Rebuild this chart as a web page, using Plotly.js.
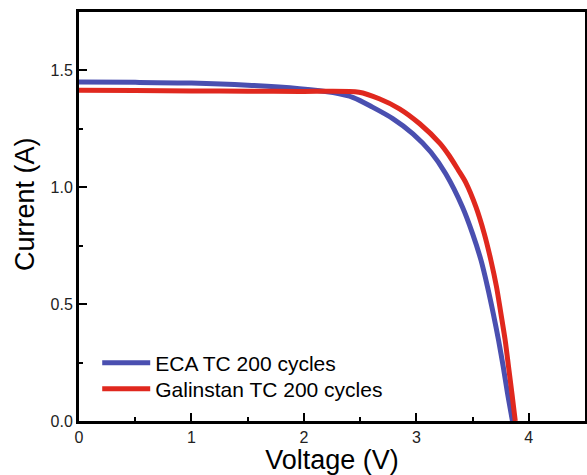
<!DOCTYPE html>
<html>
<head>
<meta charset="utf-8">
<script src="https://cdn.plot.ly/plotly-3.0.1.min.js"></script>
<style>html,body{margin:0;padding:0;background:#fff;}#chart{width:587px;height:475px;}</style>
</head>
<body>
<div id="chart"></div>
<script>
var ecaV = [0, 0.5, 1.0, 1.5, 1.96, 2.26, 2.44, 2.61, 2.79, 2.97, 3.13, 3.26, 3.41, 3.50, 3.575, 3.633, 3.684, 3.731, 3.773, 3.811, 3.855];
var ecaI = [1.450, 1.449, 1.446, 1.437, 1.422, 1.405, 1.384, 1.343, 1.294, 1.229, 1.150, 1.059, 0.916, 0.802, 0.688, 0.574, 0.460, 0.346, 0.232, 0.118, 0.0];
var galV = [0, 0.5, 1.0, 1.5, 1.96, 2.49, 2.67, 2.85, 3.03, 3.21, 3.29, 3.37, 3.44, 3.53, 3.604, 3.663, 3.713, 3.752, 3.790, 3.820, 3.850, 3.880];
var galI = [1.415, 1.414, 1.412, 1.411, 1.410, 1.407, 1.379, 1.336, 1.272, 1.188, 1.137, 1.076, 1.020, 0.916, 0.802, 0.688, 0.574, 0.460, 0.346, 0.232, 0.118, 0.0];
var seriesNames = ["ECA TC 200 cycles", "Galinstan TC 200 cycles"];
var xTitle = "Voltage (V)";
var yTitle = "Current (A)";

var traces = [
  {x: ecaV, y: ecaI, name: seriesNames[0], legend: "legend", mode: "lines", line: {color: "#4a4fb0", width: 5, shape: "spline", smoothing: 0.8}},
  {x: galV, y: galI, name: seriesNames[1], legend: "legend2", mode: "lines", line: {color: "#e0281e", width: 5, shape: "spline", smoothing: 0.8}}
];

var fontFam = "Liberation Sans, Arial, sans-serif";
var legendBase = {xanchor: "left", yanchor: "top", bgcolor: "rgba(0,0,0,0)",
  font: {size: 21, family: fontFam, color: "#000"}, itemwidth: 48};
var layout = {
  width: 587, height: 475,
  margin: {l: 79, r: 2, t: 12, b: 54},
  paper_bgcolor: "#fff", plot_bgcolor: "#fff",
  font: {family: fontFam, color: "#111", size: 16},
  showlegend: true,
  legend: Object.assign({}, legendBase, {x: 0.036, y: 0.1914}),
  legend2: Object.assign({}, legendBase, {x: 0.036, y: 0.1279}),
  xaxis: {
    range: [0, 4.5], dtick: 1, tick0: 0,
    ticks: "inside", ticklen: 8, tickwidth: 2, tickcolor: "#000",
    minor: {dtick: 0.5, ticks: "inside", ticklen: 4, tickwidth: 2, tickcolor: "#000"},
    showline: true, linewidth: 3, linecolor: "#000", mirror: true,
    showgrid: false, zeroline: false,
    tickfont: {size: 16, color: "#222"},
    title: {text: xTitle, font: {size: 27, color: "#000"}, standoff: 2}
  },
  yaxis: {
    range: [0, 1.75], dtick: 0.5, tick0: 0, tickformat: ".1f",
    ticks: "inside", ticklen: 8, tickwidth: 2, tickcolor: "#000",
    minor: {dtick: 0.25, ticks: "inside", ticklen: 4, tickwidth: 2, tickcolor: "#000"},
    showline: true, linewidth: 3, linecolor: "#000", mirror: true,
    showgrid: false, zeroline: false,
    tickfont: {size: 16, color: "#222"}
  },
  annotations: [{
    text: yTitle, xref: "paper", yref: "paper", x: -0.1067, y: 0.5306,
    xanchor: "center", yanchor: "middle", textangle: -90, showarrow: false,
    font: {size: 27, color: "#000", family: fontFam}
  }]
};
Plotly.newPlot("chart", traces, layout, {displayModeBar: false, staticPlot: true});
</script>
</body>
</html>
